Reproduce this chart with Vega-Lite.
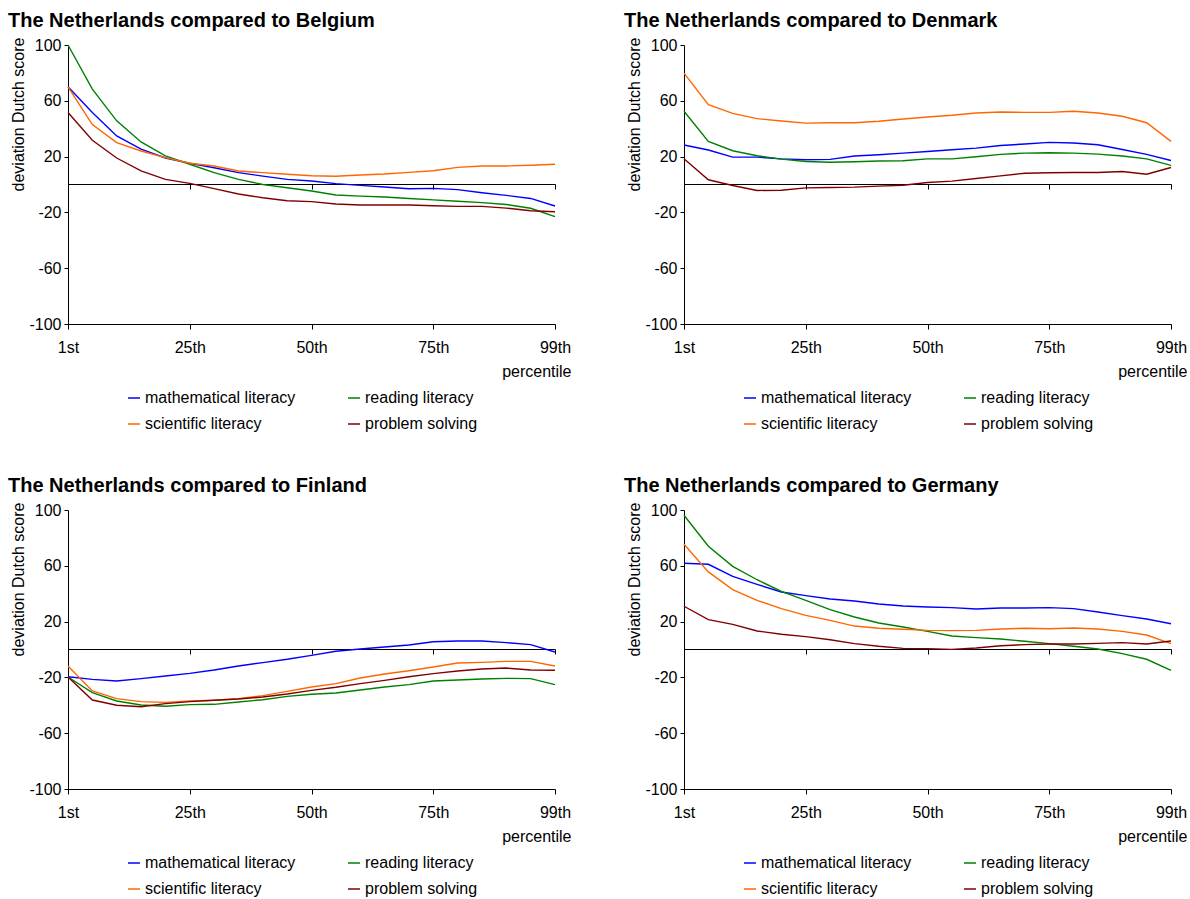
{
  "$schema": "https://vega.github.io/schema/vega-lite/v6.json",
  "padding": {"left": 8, "top": 11, "right": 0, "bottom": 0},
  "background": "white",
  "bounds": "flush",
  "columns": 2,
  "spacing": {"row": 186, "column": 129},
  "datasets": {
    "belgium": [
      {"p":1,"s":"mathematical literacy","v":70},{"p":5,"s":"mathematical literacy","v":51.6},{"p":10,"s":"mathematical literacy","v":34.8},{"p":15,"s":"mathematical literacy","v":25.3},{"p":20,"s":"mathematical literacy","v":19},{"p":25,"s":"mathematical literacy","v":15.2},{"p":30,"s":"mathematical literacy","v":12},{"p":35,"s":"mathematical literacy","v":8.5},{"p":40,"s":"mathematical literacy","v":6},{"p":45,"s":"mathematical literacy","v":3.7},{"p":50,"s":"mathematical literacy","v":2.5},{"p":55,"s":"mathematical literacy","v":0.6},{"p":60,"s":"mathematical literacy","v":-0.6},{"p":65,"s":"mathematical literacy","v":-1.8},{"p":70,"s":"mathematical literacy","v":-3},{"p":75,"s":"mathematical literacy","v":-2.8},{"p":80,"s":"mathematical literacy","v":-3.7},{"p":85,"s":"mathematical literacy","v":-5.9},{"p":90,"s":"mathematical literacy","v":-7.8},{"p":95,"s":"mathematical literacy","v":-10},{"p":99,"s":"mathematical literacy","v":-15.4},
      {"p":1,"s":"reading literacy","v":100},{"p":5,"s":"reading literacy","v":68.4},{"p":10,"s":"reading literacy","v":45.6},{"p":15,"s":"reading literacy","v":30.5},{"p":20,"s":"reading literacy","v":20.5},{"p":25,"s":"reading literacy","v":14.5},{"p":30,"s":"reading literacy","v":8.5},{"p":35,"s":"reading literacy","v":3.7},{"p":40,"s":"reading literacy","v":0},{"p":45,"s":"reading literacy","v":-2.3},{"p":50,"s":"reading literacy","v":-4.7},{"p":55,"s":"reading literacy","v":-7.5},{"p":60,"s":"reading literacy","v":-8.3},{"p":65,"s":"reading literacy","v":-9},{"p":70,"s":"reading literacy","v":-10},{"p":75,"s":"reading literacy","v":-11},{"p":80,"s":"reading literacy","v":-12},{"p":85,"s":"reading literacy","v":-13},{"p":90,"s":"reading literacy","v":-14.3},{"p":95,"s":"reading literacy","v":-17},{"p":99,"s":"reading literacy","v":-23},
      {"p":1,"s":"scientific literacy","v":70},{"p":5,"s":"scientific literacy","v":43},{"p":10,"s":"scientific literacy","v":30},{"p":15,"s":"scientific literacy","v":24},{"p":20,"s":"scientific literacy","v":19.3},{"p":25,"s":"scientific literacy","v":15.2},{"p":30,"s":"scientific literacy","v":13.3},{"p":35,"s":"scientific literacy","v":9.7},{"p":40,"s":"scientific literacy","v":8.5},{"p":45,"s":"scientific literacy","v":7.3},{"p":50,"s":"scientific literacy","v":6.3},{"p":55,"s":"scientific literacy","v":5.9},{"p":60,"s":"scientific literacy","v":6.8},{"p":65,"s":"scientific literacy","v":7.5},{"p":70,"s":"scientific literacy","v":8.7},{"p":75,"s":"scientific literacy","v":9.9},{"p":80,"s":"scientific literacy","v":12.3},{"p":85,"s":"scientific literacy","v":13.3},{"p":90,"s":"scientific literacy","v":13.3},{"p":95,"s":"scientific literacy","v":13.8},{"p":99,"s":"scientific literacy","v":14.5},
      {"p":1,"s":"problem solving","v":51.6},{"p":5,"s":"problem solving","v":31.7},{"p":10,"s":"problem solving","v":19},{"p":15,"s":"problem solving","v":9.7},{"p":20,"s":"problem solving","v":3.7},{"p":25,"s":"problem solving","v":0.8},{"p":30,"s":"problem solving","v":-3},{"p":35,"s":"problem solving","v":-6.8},{"p":40,"s":"problem solving","v":-9.5},{"p":45,"s":"problem solving","v":-11.6},{"p":50,"s":"problem solving","v":-12.3},{"p":55,"s":"problem solving","v":-14},{"p":60,"s":"problem solving","v":-14.7},{"p":65,"s":"problem solving","v":-14.7},{"p":70,"s":"problem solving","v":-14.7},{"p":75,"s":"problem solving","v":-15.2},{"p":80,"s":"problem solving","v":-15.7},{"p":85,"s":"problem solving","v":-15.7},{"p":90,"s":"problem solving","v":-16.9},{"p":95,"s":"problem solving","v":-18.8},{"p":99,"s":"problem solving","v":-19.5}
    ],
    "denmark": [
      {"p":1,"s":"mathematical literacy","v":28.3},{"p":5,"s":"mathematical literacy","v":24.7},{"p":10,"s":"mathematical literacy","v":19.6},{"p":15,"s":"mathematical literacy","v":19.6},{"p":20,"s":"mathematical literacy","v":18.4},{"p":25,"s":"mathematical literacy","v":17.7},{"p":30,"s":"mathematical literacy","v":18},{"p":35,"s":"mathematical literacy","v":20.4},{"p":40,"s":"mathematical literacy","v":21.3},{"p":45,"s":"mathematical literacy","v":22.5},{"p":50,"s":"mathematical literacy","v":23.7},{"p":55,"s":"mathematical literacy","v":24.9},{"p":60,"s":"mathematical literacy","v":26.1},{"p":65,"s":"mathematical literacy","v":28},{"p":70,"s":"mathematical literacy","v":29},{"p":75,"s":"mathematical literacy","v":30.2},{"p":80,"s":"mathematical literacy","v":29.7},{"p":85,"s":"mathematical literacy","v":28.5},{"p":90,"s":"mathematical literacy","v":25.1},{"p":95,"s":"mathematical literacy","v":21.6},{"p":99,"s":"mathematical literacy","v":17.2},
      {"p":1,"s":"reading literacy","v":52.5},{"p":5,"s":"reading literacy","v":30.9},{"p":10,"s":"reading literacy","v":24.2},{"p":15,"s":"reading literacy","v":20.6},{"p":20,"s":"reading literacy","v":18.2},{"p":25,"s":"reading literacy","v":16.5},{"p":30,"s":"reading literacy","v":16},{"p":35,"s":"reading literacy","v":16.3},{"p":40,"s":"reading literacy","v":16.8},{"p":45,"s":"reading literacy","v":17},{"p":50,"s":"reading literacy","v":18.4},{"p":55,"s":"reading literacy","v":18.4},{"p":60,"s":"reading literacy","v":19.9},{"p":65,"s":"reading literacy","v":21.6},{"p":70,"s":"reading literacy","v":22.5},{"p":75,"s":"reading literacy","v":22.8},{"p":80,"s":"reading literacy","v":22.5},{"p":85,"s":"reading literacy","v":21.8},{"p":90,"s":"reading literacy","v":20.4},{"p":95,"s":"reading literacy","v":18.4},{"p":99,"s":"reading literacy","v":13.7},
      {"p":1,"s":"scientific literacy","v":79.8},{"p":5,"s":"scientific literacy","v":57.2},{"p":10,"s":"scientific literacy","v":51},{"p":15,"s":"scientific literacy","v":47.2},{"p":20,"s":"scientific literacy","v":45.5},{"p":25,"s":"scientific literacy","v":44},{"p":30,"s":"scientific literacy","v":44.3},{"p":35,"s":"scientific literacy","v":44.3},{"p":40,"s":"scientific literacy","v":45.3},{"p":45,"s":"scientific literacy","v":47},{"p":50,"s":"scientific literacy","v":48.4},{"p":55,"s":"scientific literacy","v":49.6},{"p":60,"s":"scientific literacy","v":51.3},{"p":65,"s":"scientific literacy","v":52},{"p":70,"s":"scientific literacy","v":51.7},{"p":75,"s":"scientific literacy","v":51.7},{"p":80,"s":"scientific literacy","v":52.5},{"p":85,"s":"scientific literacy","v":51.3},{"p":90,"s":"scientific literacy","v":48.9},{"p":95,"s":"scientific literacy","v":44.3},{"p":99,"s":"scientific literacy","v":30.9},
      {"p":1,"s":"problem solving","v":18.4},{"p":5,"s":"problem solving","v":3.4},{"p":10,"s":"problem solving","v":-0.7},{"p":15,"s":"problem solving","v":-4.3},{"p":20,"s":"problem solving","v":-4.1},{"p":25,"s":"problem solving","v":-2.4},{"p":30,"s":"problem solving","v":-2.2},{"p":35,"s":"problem solving","v":-1.9},{"p":40,"s":"problem solving","v":-1.2},{"p":45,"s":"problem solving","v":-0.5},{"p":50,"s":"problem solving","v":1.4},{"p":55,"s":"problem solving","v":2.4},{"p":60,"s":"problem solving","v":4.3},{"p":65,"s":"problem solving","v":6.2},{"p":70,"s":"problem solving","v":8.1},{"p":75,"s":"problem solving","v":8.4},{"p":80,"s":"problem solving","v":8.6},{"p":85,"s":"problem solving","v":8.6},{"p":90,"s":"problem solving","v":9.3},{"p":95,"s":"problem solving","v":7.4},{"p":99,"s":"problem solving","v":12.2}
    ],
    "finland": [
      {"p":1,"s":"mathematical literacy","v":-19.5},{"p":5,"s":"mathematical literacy","v":-21.4},{"p":10,"s":"mathematical literacy","v":-22.6},{"p":15,"s":"mathematical literacy","v":-20.9},{"p":20,"s":"mathematical literacy","v":-19},{"p":25,"s":"mathematical literacy","v":-17.1},{"p":30,"s":"mathematical literacy","v":-14.7},{"p":35,"s":"mathematical literacy","v":-11.8},{"p":40,"s":"mathematical literacy","v":-9.4},{"p":45,"s":"mathematical literacy","v":-7},{"p":50,"s":"mathematical literacy","v":-4.2},{"p":55,"s":"mathematical literacy","v":-1.3},{"p":60,"s":"mathematical literacy","v":0.4},{"p":65,"s":"mathematical literacy","v":1.8},{"p":70,"s":"mathematical literacy","v":3.2},{"p":75,"s":"mathematical literacy","v":5.6},{"p":80,"s":"mathematical literacy","v":6.1},{"p":85,"s":"mathematical literacy","v":6.1},{"p":90,"s":"mathematical literacy","v":4.9},{"p":95,"s":"mathematical literacy","v":3.5},{"p":99,"s":"mathematical literacy","v":-1.8},
      {"p":1,"s":"reading literacy","v":-19.7},{"p":5,"s":"reading literacy","v":-30.9},{"p":10,"s":"reading literacy","v":-36.9},{"p":15,"s":"reading literacy","v":-39.8},{"p":20,"s":"reading literacy","v":-40.7},{"p":25,"s":"reading literacy","v":-39.5},{"p":30,"s":"reading literacy","v":-39.3},{"p":35,"s":"reading literacy","v":-37.6},{"p":40,"s":"reading literacy","v":-36},{"p":45,"s":"reading literacy","v":-33.6},{"p":50,"s":"reading literacy","v":-32.1},{"p":55,"s":"reading literacy","v":-31.2},{"p":60,"s":"reading literacy","v":-29},{"p":65,"s":"reading literacy","v":-26.9},{"p":70,"s":"reading literacy","v":-25.2},{"p":75,"s":"reading literacy","v":-22.6},{"p":80,"s":"reading literacy","v":-21.9},{"p":85,"s":"reading literacy","v":-21.1},{"p":90,"s":"reading literacy","v":-20.7},{"p":95,"s":"reading literacy","v":-20.9},{"p":99,"s":"reading literacy","v":-25.2},
      {"p":1,"s":"scientific literacy","v":-11.8},{"p":5,"s":"scientific literacy","v":-29.7},{"p":10,"s":"scientific literacy","v":-35.2},{"p":15,"s":"scientific literacy","v":-37.4},{"p":20,"s":"scientific literacy","v":-37.9},{"p":25,"s":"scientific literacy","v":-36.9},{"p":30,"s":"scientific literacy","v":-36.4},{"p":35,"s":"scientific literacy","v":-35.2},{"p":40,"s":"scientific literacy","v":-33.1},{"p":45,"s":"scientific literacy","v":-30},{"p":50,"s":"scientific literacy","v":-26.9},{"p":55,"s":"scientific literacy","v":-24.5},{"p":60,"s":"scientific literacy","v":-20.4},{"p":65,"s":"scientific literacy","v":-17.6},{"p":70,"s":"scientific literacy","v":-15.2},{"p":75,"s":"scientific literacy","v":-12.5},{"p":80,"s":"scientific literacy","v":-9.7},{"p":85,"s":"scientific literacy","v":-9.2},{"p":90,"s":"scientific literacy","v":-8.5},{"p":95,"s":"scientific literacy","v":-8.5},{"p":99,"s":"scientific literacy","v":-11.8},
      {"p":1,"s":"problem solving","v":-19.7},{"p":5,"s":"problem solving","v":-36.2},{"p":10,"s":"problem solving","v":-40},{"p":15,"s":"problem solving","v":-41},{"p":20,"s":"problem solving","v":-38.8},{"p":25,"s":"problem solving","v":-37.4},{"p":30,"s":"problem solving","v":-36.4},{"p":35,"s":"problem solving","v":-35.5},{"p":40,"s":"problem solving","v":-34},{"p":45,"s":"problem solving","v":-31.9},{"p":50,"s":"problem solving","v":-29.3},{"p":55,"s":"problem solving","v":-27.1},{"p":60,"s":"problem solving","v":-24.5},{"p":65,"s":"problem solving","v":-22.1},{"p":70,"s":"problem solving","v":-19.5},{"p":75,"s":"problem solving","v":-17.3},{"p":80,"s":"problem solving","v":-15.4},{"p":85,"s":"problem solving","v":-14},{"p":90,"s":"problem solving","v":-13.3},{"p":95,"s":"problem solving","v":-14.7},{"p":99,"s":"problem solving","v":-14.9}
    ],
    "germany": [
      {"p":1,"s":"mathematical literacy","v":61.8},{"p":5,"s":"mathematical literacy","v":61.1},{"p":10,"s":"mathematical literacy","v":52.4},{"p":15,"s":"mathematical literacy","v":46.7},{"p":20,"s":"mathematical literacy","v":41.2},{"p":25,"s":"mathematical literacy","v":38.6},{"p":30,"s":"mathematical literacy","v":36.2},{"p":35,"s":"mathematical literacy","v":34.8},{"p":40,"s":"mathematical literacy","v":32.6},{"p":45,"s":"mathematical literacy","v":31.2},{"p":50,"s":"mathematical literacy","v":30.5},{"p":55,"s":"mathematical literacy","v":30},{"p":60,"s":"mathematical literacy","v":29},{"p":65,"s":"mathematical literacy","v":29.7},{"p":70,"s":"mathematical literacy","v":29.7},{"p":75,"s":"mathematical literacy","v":30},{"p":80,"s":"mathematical literacy","v":29.3},{"p":85,"s":"mathematical literacy","v":26.9},{"p":90,"s":"mathematical literacy","v":24.3},{"p":95,"s":"mathematical literacy","v":21.9},{"p":99,"s":"mathematical literacy","v":18.5},
      {"p":1,"s":"reading literacy","v":96.2},{"p":5,"s":"reading literacy","v":74},{"p":10,"s":"reading literacy","v":59.6},{"p":15,"s":"reading literacy","v":50},{"p":20,"s":"reading literacy","v":41.7},{"p":25,"s":"reading literacy","v":35.2},{"p":30,"s":"reading literacy","v":28.6},{"p":35,"s":"reading literacy","v":23.3},{"p":40,"s":"reading literacy","v":19},{"p":45,"s":"reading literacy","v":16.1},{"p":50,"s":"reading literacy","v":13},{"p":55,"s":"reading literacy","v":9.7},{"p":60,"s":"reading literacy","v":8.5},{"p":65,"s":"reading literacy","v":7.5},{"p":70,"s":"reading literacy","v":5.9},{"p":75,"s":"reading literacy","v":4.2},{"p":80,"s":"reading literacy","v":2.3},{"p":85,"s":"reading literacy","v":0.4},{"p":90,"s":"reading literacy","v":-3},{"p":95,"s":"reading literacy","v":-7},{"p":99,"s":"reading literacy","v":-14.9},
      {"p":1,"s":"scientific literacy","v":75.4},{"p":5,"s":"scientific literacy","v":55.6},{"p":10,"s":"scientific literacy","v":42.9},{"p":15,"s":"scientific literacy","v":35.2},{"p":20,"s":"scientific literacy","v":29.3},{"p":25,"s":"scientific literacy","v":24.5},{"p":30,"s":"scientific literacy","v":20.9},{"p":35,"s":"scientific literacy","v":16.8},{"p":40,"s":"scientific literacy","v":15.2},{"p":45,"s":"scientific literacy","v":14.5},{"p":50,"s":"scientific literacy","v":13.7},{"p":55,"s":"scientific literacy","v":13.5},{"p":60,"s":"scientific literacy","v":13.7},{"p":65,"s":"scientific literacy","v":14.7},{"p":70,"s":"scientific literacy","v":15.2},{"p":75,"s":"scientific literacy","v":14.9},{"p":80,"s":"scientific literacy","v":15.4},{"p":85,"s":"scientific literacy","v":14.7},{"p":90,"s":"scientific literacy","v":13},{"p":95,"s":"scientific literacy","v":10.4},{"p":99,"s":"scientific literacy","v":4.2},
      {"p":1,"s":"problem solving","v":31},{"p":5,"s":"problem solving","v":21.4},{"p":10,"s":"problem solving","v":18},{"p":15,"s":"problem solving","v":13.3},{"p":20,"s":"problem solving","v":10.9},{"p":25,"s":"problem solving","v":9.2},{"p":30,"s":"problem solving","v":7},{"p":35,"s":"problem solving","v":4.2},{"p":40,"s":"problem solving","v":2.3},{"p":45,"s":"problem solving","v":0.8},{"p":50,"s":"problem solving","v":0.6},{"p":55,"s":"problem solving","v":0.1},{"p":60,"s":"problem solving","v":1.1},{"p":65,"s":"problem solving","v":2.7},{"p":70,"s":"problem solving","v":3.5},{"p":75,"s":"problem solving","v":3.9},{"p":80,"s":"problem solving","v":3.9},{"p":85,"s":"problem solving","v":4.4},{"p":90,"s":"problem solving","v":4.9},{"p":95,"s":"problem solving","v":3.9},{"p":99,"s":"problem solving","v":6.1}
    ]
  },
  "concat": [
    {
      "title": "The Netherlands compared to Belgium",
      "width": 487, "height": 279,
      "data": {"name": "belgium"},
      "layer": [
        {
          "mark": {"type": "line", "strokeWidth": 1.4},
          "encoding": {
            "x": {"field": "p", "type": "ordinal", "scale": {"type": "point", "padding": 0}, "axis": {"values": [1, 25, 50, 75, 99], "labelAngle": 0, "labelExpr": "datum.value == 1 ? '1st' : datum.value + 'th'", "title": "percentile", "titleX": 503, "titleY": 52, "titleAlign": "right", "titleBaseline": "alphabetic", "titleAnchor": null}},
            "y": {"field": "v", "type": "quantitative", "scale": {"domain": [-100, 100], "nice": false, "zero": false}, "axis": {"values": [-100, -60, -20, 20, 60, 100], "labelExpr": "'' + datum.value", "title": "deviation Dutch score", "titleX": -50, "titleY": 69, "titleAngle": 270, "titleAlign": "center", "titleBaseline": "middle", "titleAnchor": null}},
            "color": {"field": "s", "type": "nominal", "scale": {"domain": ["mathematical literacy", "reading literacy", "scientific literacy", "problem solving"], "range": ["#0000FF", "#008000", "#FF6600", "#800000"]}, "legend": {"orient": "none", "legendX": 58, "legendY": 345, "direction": "horizontal", "columns": 2, "title": null, "symbolType": "stroke", "symbolSize": 144, "symbolStrokeWidth": 1.5, "labelFontSize": 16, "columnPadding": 49, "rowPadding": 10, "labelOffset": 3}}
          }
        },
        {
          "mark": {"type": "line", "strokeOpacity": 0},
          "encoding": {
            "x": {"field": "p", "type": "ordinal", "scale": {"type": "point", "padding": 0}, "axis": {"orient": "bottom", "offset": -140, "values": [1, 25, 50, 75, 99], "labels": false, "title": null}},
            "y": {"field": "v", "type": "quantitative"},
            "detail": {"field": "s", "type": "nominal"}
          }
        }
      ],
      "resolve": {"axis": {"x": "independent"}}
    },
    {
      "title": "The Netherlands compared to Denmark",
      "width": 487, "height": 279,
      "data": {"name": "denmark"},
      "layer": [
        {
          "mark": {"type": "line", "strokeWidth": 1.4},
          "encoding": {
            "x": {"field": "p", "type": "ordinal", "scale": {"type": "point", "padding": 0}, "axis": {"values": [1, 25, 50, 75, 99], "labelAngle": 0, "labelExpr": "datum.value == 1 ? '1st' : datum.value + 'th'", "title": "percentile", "titleX": 503, "titleY": 52, "titleAlign": "right", "titleBaseline": "alphabetic", "titleAnchor": null}},
            "y": {"field": "v", "type": "quantitative", "scale": {"domain": [-100, 100], "nice": false, "zero": false}, "axis": {"values": [-100, -60, -20, 20, 60, 100], "labelExpr": "'' + datum.value", "title": "deviation Dutch score", "titleX": -50, "titleY": 69, "titleAngle": 270, "titleAlign": "center", "titleBaseline": "middle", "titleAnchor": null}},
            "color": {"field": "s", "type": "nominal", "scale": {"domain": ["mathematical literacy", "reading literacy", "scientific literacy", "problem solving"], "range": ["#0000FF", "#008000", "#FF6600", "#800000"]}, "legend": {"orient": "none", "legendX": 58, "legendY": 345, "direction": "horizontal", "columns": 2, "title": null, "symbolType": "stroke", "symbolSize": 144, "symbolStrokeWidth": 1.5, "labelFontSize": 16, "columnPadding": 49, "rowPadding": 10, "labelOffset": 3}}
          }
        },
        {
          "mark": {"type": "line", "strokeOpacity": 0},
          "encoding": {
            "x": {"field": "p", "type": "ordinal", "scale": {"type": "point", "padding": 0}, "axis": {"orient": "bottom", "offset": -140, "values": [1, 25, 50, 75, 99], "labels": false, "title": null}},
            "y": {"field": "v", "type": "quantitative"},
            "detail": {"field": "s", "type": "nominal"}
          }
        }
      ],
      "resolve": {"axis": {"x": "independent"}}
    },
    {
      "title": "The Netherlands compared to Finland",
      "width": 487, "height": 279,
      "data": {"name": "finland"},
      "layer": [
        {
          "mark": {"type": "line", "strokeWidth": 1.4},
          "encoding": {
            "x": {"field": "p", "type": "ordinal", "scale": {"type": "point", "padding": 0}, "axis": {"values": [1, 25, 50, 75, 99], "labelAngle": 0, "labelExpr": "datum.value == 1 ? '1st' : datum.value + 'th'", "title": "percentile", "titleX": 503, "titleY": 52, "titleAlign": "right", "titleBaseline": "alphabetic", "titleAnchor": null}},
            "y": {"field": "v", "type": "quantitative", "scale": {"domain": [-100, 100], "nice": false, "zero": false}, "axis": {"values": [-100, -60, -20, 20, 60, 100], "labelExpr": "'' + datum.value", "title": "deviation Dutch score", "titleX": -50, "titleY": 69, "titleAngle": 270, "titleAlign": "center", "titleBaseline": "middle", "titleAnchor": null}},
            "color": {"field": "s", "type": "nominal", "scale": {"domain": ["mathematical literacy", "reading literacy", "scientific literacy", "problem solving"], "range": ["#0000FF", "#008000", "#FF6600", "#800000"]}, "legend": {"orient": "none", "legendX": 58, "legendY": 345, "direction": "horizontal", "columns": 2, "title": null, "symbolType": "stroke", "symbolSize": 144, "symbolStrokeWidth": 1.5, "labelFontSize": 16, "columnPadding": 49, "rowPadding": 10, "labelOffset": 3}}
          }
        },
        {
          "mark": {"type": "line", "strokeOpacity": 0},
          "encoding": {
            "x": {"field": "p", "type": "ordinal", "scale": {"type": "point", "padding": 0}, "axis": {"orient": "bottom", "offset": -140, "values": [1, 25, 50, 75, 99], "labels": false, "title": null}},
            "y": {"field": "v", "type": "quantitative"},
            "detail": {"field": "s", "type": "nominal"}
          }
        }
      ],
      "resolve": {"axis": {"x": "independent"}}
    },
    {
      "title": "The Netherlands compared to Germany",
      "width": 487, "height": 279,
      "data": {"name": "germany"},
      "layer": [
        {
          "mark": {"type": "line", "strokeWidth": 1.4},
          "encoding": {
            "x": {"field": "p", "type": "ordinal", "scale": {"type": "point", "padding": 0}, "axis": {"values": [1, 25, 50, 75, 99], "labelAngle": 0, "labelExpr": "datum.value == 1 ? '1st' : datum.value + 'th'", "title": "percentile", "titleX": 503, "titleY": 52, "titleAlign": "right", "titleBaseline": "alphabetic", "titleAnchor": null}},
            "y": {"field": "v", "type": "quantitative", "scale": {"domain": [-100, 100], "nice": false, "zero": false}, "axis": {"values": [-100, -60, -20, 20, 60, 100], "labelExpr": "'' + datum.value", "title": "deviation Dutch score", "titleX": -50, "titleY": 69, "titleAngle": 270, "titleAlign": "center", "titleBaseline": "middle", "titleAnchor": null}},
            "color": {"field": "s", "type": "nominal", "scale": {"domain": ["mathematical literacy", "reading literacy", "scientific literacy", "problem solving"], "range": ["#0000FF", "#008000", "#FF6600", "#800000"]}, "legend": {"orient": "none", "legendX": 58, "legendY": 345, "direction": "horizontal", "columns": 2, "title": null, "symbolType": "stroke", "symbolSize": 144, "symbolStrokeWidth": 1.5, "labelFontSize": 16, "columnPadding": 49, "rowPadding": 10, "labelOffset": 3}}
          }
        },
        {
          "mark": {"type": "line", "strokeOpacity": 0},
          "encoding": {
            "x": {"field": "p", "type": "ordinal", "scale": {"type": "point", "padding": 0}, "axis": {"orient": "bottom", "offset": -140, "values": [1, 25, 50, 75, 99], "labels": false, "title": null}},
            "y": {"field": "v", "type": "quantitative"},
            "detail": {"field": "s", "type": "nominal"}
          }
        }
      ],
      "resolve": {"axis": {"x": "independent"}}
    }
  ],
  "resolve": {"scale": {"color": "independent"}, "legend": {"color": "independent"}},
  "config": {
    "font": "Liberation Sans",
    "view": {"stroke": null},
    "title": {"anchor": "start", "frame": "group", "dx": -60, "fontSize": 20, "fontWeight": "bold", "color": "black", "offset": 6, "baseline": "alphabetic"},
    "axis": {"grid": false, "domainColor": "black", "tickColor": "black", "labelColor": "black", "titleColor": "black", "labelFontSize": 16, "titleFontSize": 16, "titleFontWeight": "normal", "tickSize": 5, "labelPadding": 10, "domainWidth": 1, "tickWidth": 1},
    "axisY": {"tickSize": 4, "labelPadding": 3},
    "legend": {"labelColor": "black", "labelFontSize": 16}
  }
}
